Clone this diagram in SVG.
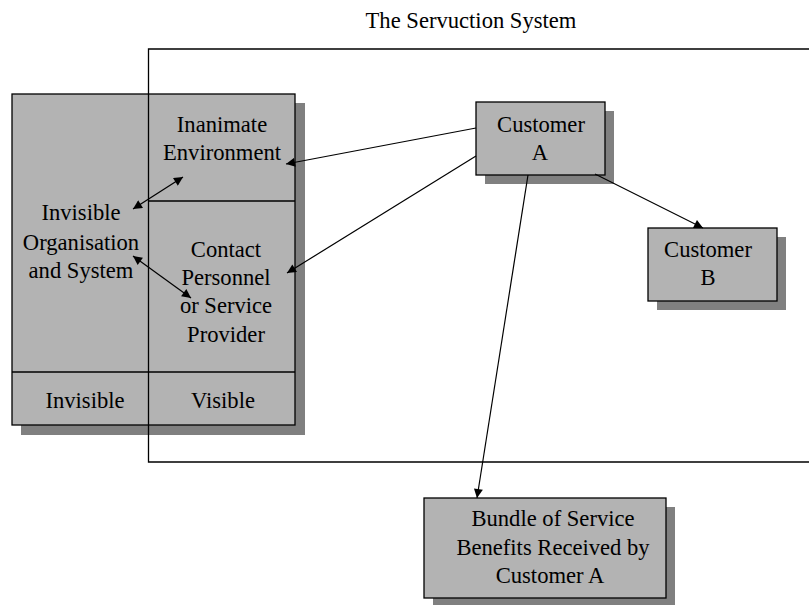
<svg xmlns="http://www.w3.org/2000/svg" width="809" height="605" viewBox="0 0 809 605">
  <style>
    .shadow { fill: #808080; }
    .box { fill: #b3b3b3; stroke: #000; stroke-width: 1.3; }
    .rule { stroke: #000; stroke-width: 1.3; fill: none; }
    .lbl { font-size: 22.6px; fill: #000; text-anchor: middle; }
    .conn { stroke: #000; stroke-width: 1.2; fill: none; }
  </style>
  <defs>
    <marker id="arrow" viewBox="0 0 10 10" refX="10" refY="5" markerWidth="11" markerHeight="9" markerUnits="userSpaceOnUse" orient="auto-start-reverse">
      <path d="M0,0 L10,5 L0,10 Z" fill="#000"/>
    </marker>
  </defs>

  <rect width="809" height="605" fill="#fff"/>

  <g font-family="'Liberation Serif', 'Times New Roman', Times, serif">
  <text class="lbl" x="471" y="28">The Servuction System</text>

  <!-- service organisation block: invisible and visible parts -->
  <g id="organisation">
    <rect class="shadow" x="21" y="103" width="284" height="332"/>
    <rect class="box" x="12" y="94" width="283" height="331"/>
    <line class="rule" x1="149" y1="201" x2="295" y2="201"/>
    <line class="rule" x1="12" y1="372" x2="295" y2="372"/>
  </g>
  <g id="inanimate-environment">
    <text class="lbl" x="222" y="132">Inanimate</text>
    <text class="lbl" x="222" y="160">Environment</text>
  </g>
  <g id="invisible-organisation">
    <text class="lbl" x="81" y="220">Invisible</text>
    <text class="lbl" x="81" y="250">Organisation</text>
    <text class="lbl" x="81" y="278">and System</text>
  </g>
  <g id="contact-personnel">
    <text class="lbl" x="226" y="257">Contact</text>
    <text class="lbl" x="226" y="285">Personnel</text>
    <text class="lbl" x="226" y="313">or Service</text>
    <text class="lbl" x="226" y="342">Provider</text>
  </g>
  <g id="invisible-label">
    <text class="lbl" x="85" y="408">Invisible</text>
  </g>
  <g id="visible-label">
    <text class="lbl" x="223" y="408">Visible</text>
  </g>

  <!-- servuction system boundary, open to the right -->
  <path id="system-boundary" class="rule" d="M810,49 H148.5 V462 H810"/>

  <g id="customer-a">
    <rect class="shadow" x="485" y="111" width="129" height="73"/>
    <rect class="box" x="476" y="102" width="129" height="73"/>
    <text class="lbl" x="541" y="132">Customer</text>
    <text class="lbl" x="540" y="160">A</text>
  </g>

  <g id="customer-b">
    <rect class="shadow" x="657" y="237" width="129" height="73"/>
    <rect class="box" x="648" y="228" width="129" height="73"/>
    <text class="lbl" x="708" y="257">Customer</text>
    <text class="lbl" x="708" y="285">B</text>
  </g>

  <g id="benefits-bundle">
    <rect class="shadow" x="433" y="507" width="242" height="100"/>
    <rect class="box" x="424" y="498" width="242" height="100"/>
    <text class="lbl" x="553" y="526">Bundle of Service</text>
    <text class="lbl" x="553" y="555">Benefits Received by</text>
    <text class="lbl" x="550" y="583">Customer A</text>
  </g>
  </g>

  <g id="connectors">
    <line class="conn" x1="476" y1="128" x2="286" y2="164" marker-end="url(#arrow)"/>
    <line class="conn" x1="476" y1="156" x2="287" y2="273" marker-end="url(#arrow)"/>
    <line class="conn" x1="595" y1="174" x2="703" y2="228" marker-end="url(#arrow)"/>
    <line class="conn" x1="528" y1="175" x2="477" y2="498" marker-end="url(#arrow)"/>
    <line class="conn" x1="133" y1="209" x2="183" y2="177" marker-start="url(#arrow)" marker-end="url(#arrow)"/>
    <line class="conn" x1="133" y1="256" x2="191" y2="298" marker-start="url(#arrow)" marker-end="url(#arrow)"/>
  </g>
</svg>
